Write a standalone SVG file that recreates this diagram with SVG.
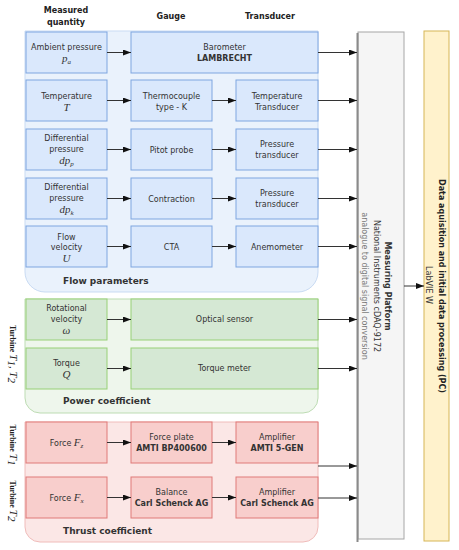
<svg xmlns="http://www.w3.org/2000/svg" width="459" height="550" viewBox="0 0 459 550">
<style>
.t{font-family:"DejaVu Sans",Verdana,sans-serif;font-size:8px;fill:#333;text-anchor:middle}
.b{font-weight:bold}
.h{font-family:"DejaVu Sans",Verdana,sans-serif;font-size:8px;font-weight:bold;fill:#222;text-anchor:middle}
.g{font-family:"DejaVu Sans",Verdana,sans-serif;font-size:9px;font-weight:bold;fill:#333}
.m{font-family:"Liberation Serif",serif;font-style:italic;font-size:11px}
.s{font-size:7px}
.blue{fill:#dae8fc;stroke:#7ea6e0;stroke-width:1}
.green{fill:#d5e8d4;stroke:#97d077;stroke-width:1}
.red{fill:#f8cecc;stroke:#e07a78;stroke-width:1}
.c{stroke:#333;stroke-width:1;fill:none;marker-end:url(#a)}
.turb{font-family:"Liberation Serif",serif;font-size:8px;font-weight:bold;fill:#222;text-anchor:middle}
</style>
<defs>
<marker id="a" viewBox="0 0 8 6" refX="8" refY="3" markerWidth="8" markerHeight="6" markerUnits="userSpaceOnUse" orient="auto">
<path d="M0,0 L8,3 L0,6 Z" fill="#111"/>
</marker>
</defs>

<!-- headers -->
<g id="headers">
<text class="h" x="66" y="13">Measured</text>
<text class="h" x="66" y="25">quantity</text>
<text class="h" x="171" y="19">Gauge</text>
<text class="h" x="270" y="19">Transducer</text>
</g>

<!-- group backgrounds -->
<g id="flow-group">
<path d="M25,31 H318 V272 A20,20 0 0 1 298,292 H45 A20,20 0 0 1 25,272 Z" fill="#eaf2fc" stroke="#c9dbf3"/>
<text class="g" x="63" y="284">Flow parameters</text>
</g>
<g id="power-group">
<path d="M25,299 H318 V398 A15,15 0 0 1 303,413 H40 A15,15 0 0 1 25,398 Z" fill="#eef6ec" stroke="#bddcb3"/>
<text class="g" x="63" y="404">Power coefficient</text>
</g>
<g id="thrust-group">
<path d="M25,422 H318 V527 A15,15 0 0 1 303,542 H40 A15,15 0 0 1 25,527 Z" fill="#fbe7e6" stroke="#f0bcba"/>
<text class="g" x="63" y="534">Thrust coefficient</text>
</g>

<!-- side labels -->
<g id="label-turbine-12">
<text class="turb" transform="translate(13,354) rotate(90)" dy="0.35em">Turbine <tspan class="m" font-weight="normal" font-size="10px">T</tspan><tspan class="m" font-weight="normal" font-size="7px" dy="2">1</tspan><tspan class="m" font-weight="normal" font-size="10px" dy="-2">, T</tspan><tspan class="m" font-weight="normal" font-size="7px" dy="2">2</tspan></text>
</g>
<g id="label-turbine-1">
<text class="turb" transform="translate(13,445) rotate(90)" dy="0.35em">Turbine <tspan class="m" font-weight="normal" font-size="10px">T</tspan><tspan class="m" font-weight="normal" font-size="7px" dy="2">1</tspan></text>
</g>
<g id="label-turbine-2">
<text class="turb" transform="translate(13,501) rotate(90)" dy="0.35em">Turbine <tspan class="m" font-weight="normal" font-size="10px">T</tspan><tspan class="m" font-weight="normal" font-size="7px" dy="2">2</tspan></text>
</g>

<!-- flow row 1 -->
<g id="ambient-pressure">
<rect class="blue" x="26" y="32" width="81" height="41"/>
<text class="t" x="66.5" y="50">Ambient pressure</text>
<text class="t m" x="66.5" y="62">p<tspan class="s" dy="2">a</tspan></text>
</g>
<g id="barometer">
<rect class="blue" x="131" y="32" width="187" height="41"/>
<text class="t" x="224.5" y="50">Barometer</text>
<text class="t b" x="224.5" y="61">LAMBRECHT</text>
</g>
<!-- flow row 2 -->
<g id="temperature">
<rect class="blue" x="26" y="80" width="81" height="41"/>
<text class="t" x="66.5" y="99">Temperature</text>
<text class="t m" x="66.5" y="111">T</text>
</g>
<g id="thermocouple">
<rect class="blue" x="131" y="80" width="81" height="41"/>
<text class="t" x="171.5" y="99">Thermocouple</text>
<text class="t" x="171.5" y="110">type - K</text>
</g>
<g id="temperature-transducer">
<rect class="blue" x="236" y="80" width="82" height="41"/>
<text class="t" x="277" y="99">Temperature</text>
<text class="t" x="277" y="110">Transducer</text>
</g>
<!-- flow row 3 -->
<g id="diff-pressure-p">
<rect class="blue" x="26" y="129" width="81" height="41"/>
<text class="t" x="66.5" y="141">Differential</text>
<text class="t" x="66.5" y="152">pressure</text>
<text class="t m" x="66.5" y="164">dp<tspan class="s" dy="2">p</tspan></text>
</g>
<g id="pitot-probe">
<rect class="blue" x="131" y="129" width="81" height="41"/>
<text class="t" x="171.5" y="153">Pitot probe</text>
</g>
<g id="pressure-transducer-1">
<rect class="blue" x="236" y="129" width="82" height="41"/>
<text class="t" x="277" y="147">Pressure</text>
<text class="t" x="277" y="158">transducer</text>
</g>
<!-- flow row 4 -->
<g id="diff-pressure-k">
<rect class="blue" x="26" y="178" width="81" height="41"/>
<text class="t" x="66.5" y="190">Differential</text>
<text class="t" x="66.5" y="201">pressure</text>
<text class="t m" x="66.5" y="213">dp<tspan class="s" dy="2">k</tspan></text>
</g>
<g id="contraction">
<rect class="blue" x="131" y="178" width="81" height="41"/>
<text class="t" x="171.5" y="202">Contraction</text>
</g>
<g id="pressure-transducer-2">
<rect class="blue" x="236" y="178" width="82" height="41"/>
<text class="t" x="277" y="196">Pressure</text>
<text class="t" x="277" y="207">transducer</text>
</g>
<!-- flow row 5 -->
<g id="flow-velocity">
<rect class="blue" x="26" y="226" width="81" height="41"/>
<text class="t" x="66.5" y="240">Flow</text>
<text class="t" x="66.5" y="250">velocity</text>
<text class="t m" x="66.5" y="262">U</text>
</g>
<g id="cta">
<rect class="blue" x="131" y="226" width="81" height="41"/>
<text class="t" x="171.5" y="250">CTA</text>
</g>
<g id="anemometer">
<rect class="blue" x="236" y="226" width="82" height="41"/>
<text class="t" x="277" y="250">Anemometer</text>
</g>

<!-- power rows -->
<g id="rotational-velocity">
<rect class="green" x="26" y="299" width="81" height="41"/>
<text class="t" x="66.5" y="311">Rotational</text>
<text class="t" x="66.5" y="322">velocity</text>
<text class="t m" x="66.5" y="334">ω</text>
</g>
<g id="optical-sensor">
<rect class="green" x="131" y="299" width="187" height="41"/>
<text class="t" x="224.5" y="322">Optical sensor</text>
</g>
<g id="torque">
<rect class="green" x="26" y="348" width="81" height="41"/>
<text class="t" x="66.5" y="366">Torque</text>
<text class="t m" x="66.5" y="378">Q</text>
</g>
<g id="torque-meter">
<rect class="green" x="131" y="348" width="187" height="41"/>
<text class="t" x="224.5" y="371">Torque meter</text>
</g>

<!-- thrust rows -->
<g id="force-z">
<rect class="red" x="26" y="422" width="81" height="41"/>
<text class="t" x="66.5" y="446">Force <tspan class="m">F</tspan><tspan class="m s" dy="2">z</tspan></text>
</g>
<g id="force-plate">
<rect class="red" x="131" y="422" width="81" height="41"/>
<text class="t" x="171.5" y="440">Force plate</text>
<text class="t b" x="171.5" y="451">AMTI BP400600</text>
</g>
<g id="amplifier-1">
<rect class="red" x="236" y="422" width="82" height="41"/>
<text class="t" x="277" y="440">Amplifier</text>
<text class="t b" x="277" y="451">AMTI 5-GEN</text>
</g>
<g id="force-x">
<rect class="red" x="26" y="477" width="81" height="41"/>
<text class="t" x="66.5" y="501">Force <tspan class="m">F</tspan><tspan class="m s" dy="2">x</tspan></text>
</g>
<g id="balance">
<rect class="red" x="131" y="477" width="81" height="41"/>
<text class="t" x="171.5" y="495">Balance</text>
<text class="t b" x="171.5" y="506">Carl Schenck AG</text>
</g>
<g id="amplifier-2">
<rect class="red" x="236" y="477" width="82" height="41"/>
<text class="t" x="277" y="495">Amplifier</text>
<text class="t b" x="277" y="506">Carl Schenck AG</text>
</g>

<!-- measuring platform -->
<g id="measuring-platform">
<rect x="358" y="32" width="46" height="507" fill="#f5f5f5" stroke="#a6a6a6"/>
<line x1="357.5" y1="33" x2="357.5" y2="542" stroke="#8a8a8a" stroke-width="2"/>
<text class="t b" font-size="8.5px" transform="translate(388,286) rotate(90)" dy="0.35em">Measuring Platform</text>
<text class="t" font-size="8.5px" transform="translate(377,286) rotate(90)" dy="0.35em">National Instruments cDAQ-9172</text>
<text class="t" fill="#666" style="fill:#777" transform="translate(365,286) rotate(90)" dy="0.35em">analogue to digital signal conversion</text>
</g>

<!-- PC -->
<g id="data-acquisition">
<rect x="424" y="31" width="25" height="510" fill="#fff2cc" stroke="#d6b656"/>
<text class="t b" font-size="7.4px" style="fill:#222" transform="translate(442,286) rotate(90)" dy="0.35em">Data aquisition and initial data processing (PC)</text>
<text class="t" font-size="7px" transform="translate(429,285) rotate(90)" dy="0.35em">LabVIE W</text>
</g>

<!-- connectors -->
<g id="connectors">
<line class="c" x1="107" y1="52.5" x2="131" y2="52.5"/>
<line class="c" x1="107" y1="100.5" x2="131" y2="100.5"/>
<line class="c" x1="212" y1="100.5" x2="236" y2="100.5"/>
<line class="c" x1="107" y1="149.5" x2="131" y2="149.5"/>
<line class="c" x1="212" y1="149.5" x2="236" y2="149.5"/>
<line class="c" x1="107" y1="198.5" x2="131" y2="198.5"/>
<line class="c" x1="212" y1="198.5" x2="236" y2="198.5"/>
<line class="c" x1="107" y1="246.5" x2="131" y2="246.5"/>
<line class="c" x1="212" y1="246.5" x2="236" y2="246.5"/>
<line class="c" x1="107" y1="319.5" x2="131" y2="319.5"/>
<line class="c" x1="107" y1="368.5" x2="131" y2="368.5"/>
<line class="c" x1="107" y1="442.5" x2="131" y2="442.5"/>
<line class="c" x1="212" y1="442.5" x2="236" y2="442.5"/>
<line class="c" x1="107" y1="497.5" x2="131" y2="497.5"/>
<line class="c" x1="212" y1="497.5" x2="236" y2="497.5"/>
<line class="c" x1="318" y1="52.5" x2="357" y2="52.5"/>
<line class="c" x1="318" y1="100.5" x2="357" y2="100.5"/>
<line class="c" x1="318" y1="149.5" x2="357" y2="149.5"/>
<line class="c" x1="318" y1="198.5" x2="357" y2="198.5"/>
<line class="c" x1="318" y1="246.5" x2="357" y2="246.5"/>
<line class="c" x1="318" y1="319.5" x2="357" y2="319.5"/>
<line class="c" x1="318" y1="368.5" x2="357" y2="368.5"/>
<line class="c" x1="318" y1="466" x2="357" y2="466"/>
<line class="c" x1="318" y1="498" x2="357" y2="498"/>
<line class="c" x1="404" y1="286" x2="424" y2="286"/>
</g>
</svg>
